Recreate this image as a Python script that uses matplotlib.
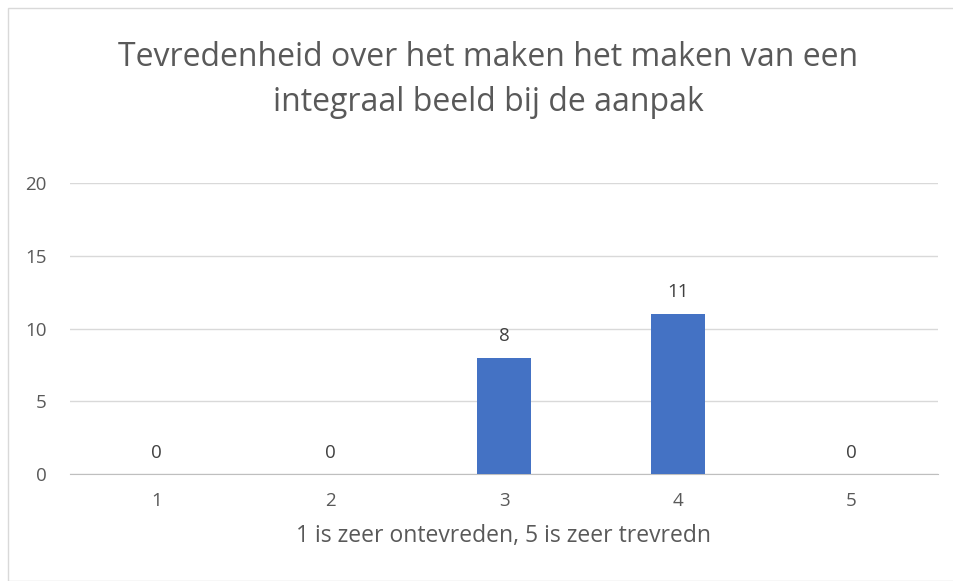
import matplotlib
matplotlib.use('Agg')
from matplotlib import pyplot as plt
from matplotlib.patches import Rectangle

categories = ['1', '2', '3', '4', '5']
values = [0, 0, 8, 11, 0]
yticks = [0, 5, 10, 15, 20]

title = 'Tevredenheid over het maken het maken van een\nintegraal beeld bij de aanpak'
xlabel = '1 is zeer ontevreden, 5 is zeer trevredn'


def main():
    plt.rcParams['font.family'] = ['Open Sans', 'DejaVu Sans']
    grey = '#595959'
    fig = plt.figure(figsize=(9.54, 5.81), dpi=100)
    # chart border
    fig.patches.append(Rectangle((8 / 954, 0), 1, 1 - 8 / 581, transform=fig.transFigure,
                                 fill=False, edgecolor='#d9d9d9', linewidth=1))
    ax = fig.add_axes([70 / 954, 1 - 474 / 581, 868 / 954, 291 / 581])

    x = list(range(1, len(categories) + 1))
    ax.bar(x, values, width=0.31, color='#4472c4', zorder=3)
    for xi, v in zip(x, values):
        ax.annotate(str(v), (xi, v), xytext=(0, 9), textcoords='offset points',
                    ha='center', va='bottom', fontsize=13.5, color='#404040')

    ax.set_xlim(0.5, 5.5)
    ax.set_ylim(0, 20)
    ax.set_yticks(yticks)
    ax.set_xticks(x)
    ax.set_xticklabels(categories)
    ax.grid(axis='y', color='#d9d9d9', linewidth=1, zorder=0)
    for s in ['top', 'right', 'left']:
        ax.spines[s].set_visible(False)
    ax.spines['bottom'].set_color('#bfbfbf')
    ax.tick_params(length=0, labelsize=13.5, labelcolor=grey)
    ax.tick_params(axis='x', pad=13)
    ax.tick_params(axis='y', pad=17)
    ax.set_xlabel(xlabel, fontsize=16.5, color=grey, labelpad=10)

    fig.text(488 / 954, 1 - 80 / 581, title, ha='center', va='center',
             fontsize=23, color=grey, linespacing=1.45)

    plt.savefig('out.png', dpi=100)


if __name__ == '__main__':
    main()
